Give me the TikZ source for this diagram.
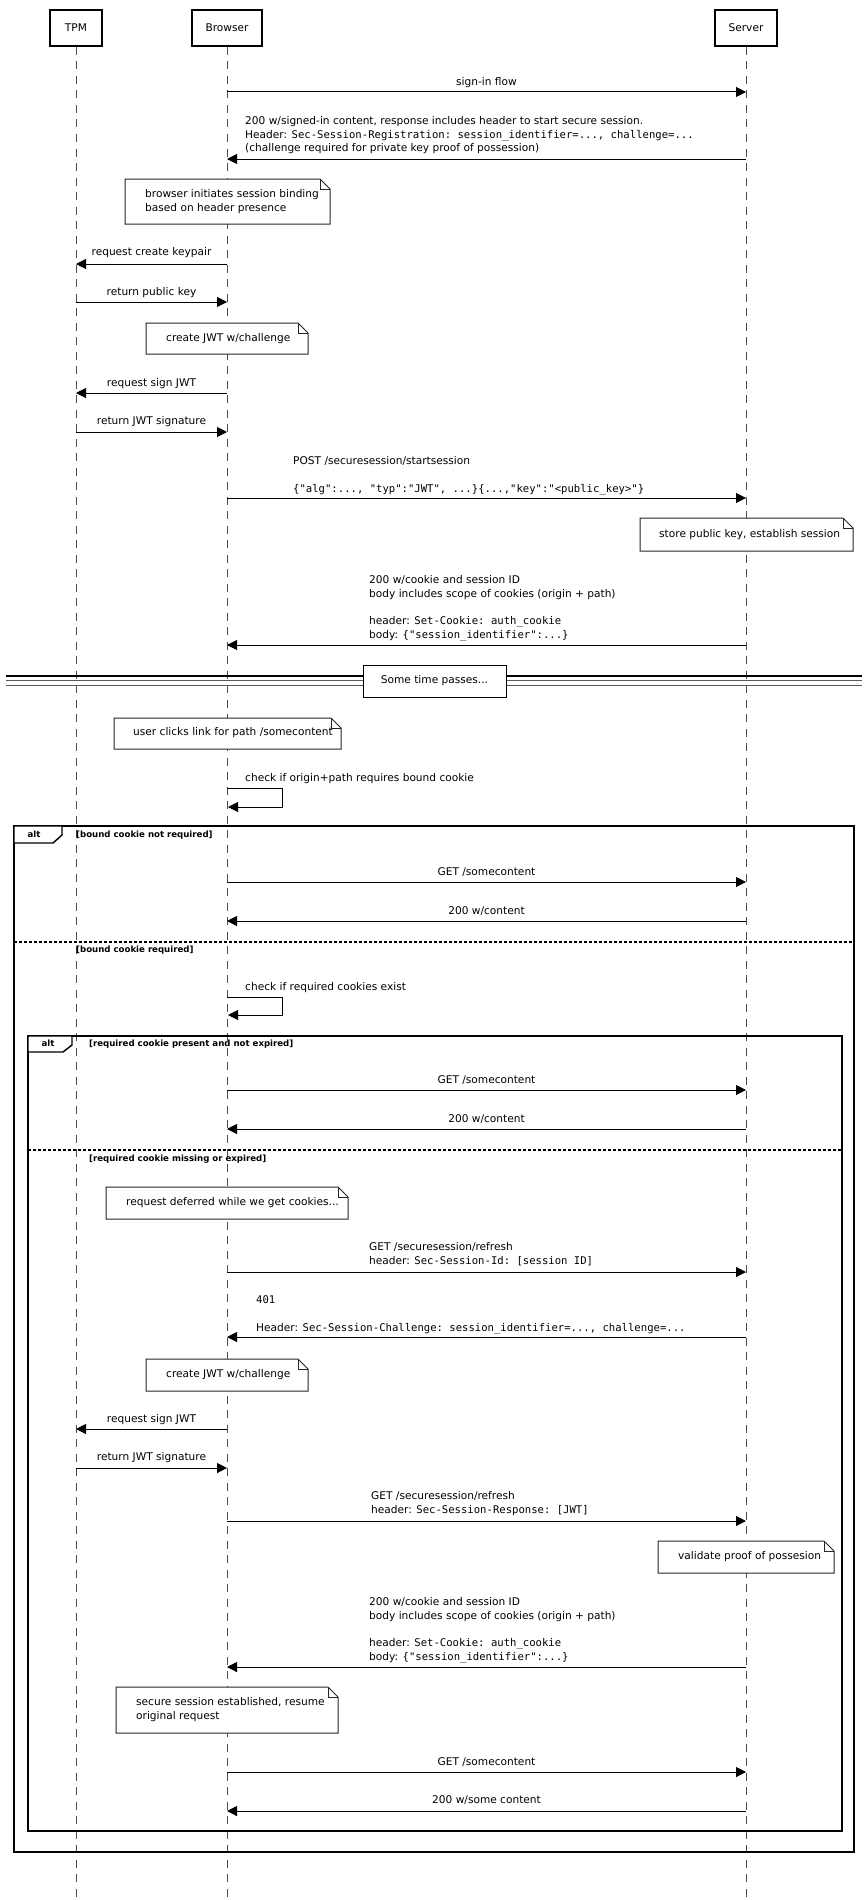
\documentclass[tikz,border=0pt]{standalone}
\usepackage{fontspec}
\setmainfont{DejaVu Sans}
\setmonofont{DejaVu Sans Mono}
\usetikzlibrary{arrows.meta}
\newcommand\msgline[4]{\coordinate (#1a) at (#2,#4); \coordinate (#1b) at (#3,#4); \draw[msg] (#1a) -- (#1b);}
\newcommand\notepath[4]{%
  \draw[notebox] (#1,#2) -- ({#3-10},#2) -- (#3,{#2+10}) -- (#3,#4) -- (#1,#4) -- cycle;
  \draw[notebox, fill=none] ({#3-10},#2) -- ({#3-10},{#2+10}) -- (#3,{#2+10});}
\tikzset{
  every node/.style={inner sep=0pt, font=\fontsize{10.6pt}{13.6pt}\selectfont},
  part/.style={draw, line width=2.2pt, fill=white, minimum height=36.5pt},
  life/.style={draw=black!70, line width=1pt, dash pattern=on 8pt off 6.5pt},
  msg/.style={draw=black, line width=1pt, -{Triangle[length=10pt,width=10pt]}},
  lbl/.style={anchor=mid},
  lblw/.style={anchor=mid west},
  notebox/.style={draw=black!85, line width=1pt, fill=white},
  frm/.style={draw, line width=1.8pt},
  tab/.style={draw, line width=1.4pt, fill=white},
  sepline/.style={draw, line width=1.4pt, dash pattern=on 2.5pt off 2.5pt},
  guard/.style={anchor=mid west, font=\fontsize{8.6pt}{10pt}\selectfont\bfseries},
  altlbl/.style={anchor=mid, font=\fontsize{8.6pt}{10pt}\selectfont\bfseries},
}
\begin{document}
\begin{tikzpicture}[x=1pt,y=-1pt]
\useasboundingbox (0,0) rectangle (866,1900);
\fill[white] (0,0) rectangle (866,1900);
% lifelines
\coordinate (tpmEnd) at (76,1900);
\coordinate (brwEnd) at (227,1900);
\coordinate (srvEnd) at (746,1900);
\coordinate (tpmTop) at (76,47);
\coordinate (brwTop) at (227,47);
\coordinate (srvTop) at (746,47);
\draw[life] (tpmTop) -- (tpmEnd);
\draw[life] (brwTop) -- (brwEnd);
\draw[life] (srvTop) -- (srvEnd);
% participants
\node[part, minimum width=52.5pt] (tpm) at (76,28) {TPM};
\node[part, minimum width=70.5pt] (brw) at (227,28) {Browser};
\node[part, minimum width=62.5pt] (srv) at (746,28) {Server};

% 1 sign-in flow
\node[lbl] (l1) at (486.5,83) {sign-in flow};
\msgline{m1}{227}{746}{92}
% 2
\node[lblw] (l2a) at (245,122) {200 w/signed-in content, response includes header to start secure session.};
\node[lblw] (l2b) at (245,135.5) {Header: \texttt{Sec-Session-Registration: session\_identifier=..., challenge=...}};
\node[lblw] (l2c) at (245,149) {(challenge required for private key proof of possession)};
\msgline{m2}{746}{227}{159}
% note 1
\notepath{125}{179}{330}{224}
\node[lblw] (n1a) at (145,195) {browser initiates session binding};
\node[lblw] (n1b) at (145,208.5) {based on header presence};
% keypair
\node[lbl] (l3) at (151.5,253) {request create keypair};
\msgline{m3}{227}{76}{264}
\node[lbl] (l4) at (151.5,293) {return public key};
\msgline{m4}{76}{227}{302}
% note create JWT
\notepath{146}{323}{308}{354}
\node[lblw] (n2) at (166,338.5) {create JWT w/challenge};
\node[lbl] (l5) at (151.5,384) {request sign JWT};
\msgline{m5}{227}{76}{393}
\node[lbl] (l6) at (151.5,422) {return JWT signature};
\msgline{m6}{76}{227}{432}
% POST
\node[lblw] (l7a) at (293,462) {POST /securesession/startsession};
\node[lblw] (l7b) at (293,490) {\texttt{\{"alg":..., "typ":"JWT", ...\}\{...,"key":"<public\_key>"\}}};
\msgline{m7}{227}{746}{498}
% note store
\notepath{640}{518}{853}{551}
\node[lblw] (n3) at (659,534.5) {store public key, establish session};
% 200 cookie
\node[lblw] (l8a) at (369,581) {200 w/cookie and session ID};
\node[lblw] (l8b) at (369,594.5) {body includes scope of cookies (origin + path)};
\node[lblw] (l8c) at (369,622) {header: \texttt{Set-Cookie: auth\_cookie}};
\node[lblw] (l8d) at (369,636) {body: \texttt{\{"session\_identifier":...\}}};
\msgline{m8}{746}{227}{645}
% divider
\coordinate (dv1a) at (6,676); \coordinate (dv1b) at (862,676);
\coordinate (dv2a) at (6,680.5); \coordinate (dv2b) at (862,680.5);
\coordinate (dv3a) at (6,685); \coordinate (dv3b) at (862,685);
\draw[line width=1.2pt] (dv1a) -- (dv1b);
\draw[line width=1pt, black!65] (dv2a) -- (dv2b);
\draw[line width=1pt, black!65] (dv3a) -- (dv3b);
\node[draw, line width=1pt, fill=white, minimum width=143pt, minimum height=32pt] (dvbox) at (434.5,681) {Some time passes...};
% note user clicks
\notepath{114}{718}{341}{749}
\node[lblw] (n4) at (133,733) {user clicks link for path /somecontent};
% self message 1
\node[lblw] (l9) at (245,779) {check if origin+path requires bound cookie};
\coordinate (s1a) at (227,788); \coordinate (s1c) at (282,788); \coordinate (s1b) at (228,807);
\draw[msg] (s1a) -- (s1c) |- (s1b);
% outer alt
\coordinate (fo1) at (14,826); \coordinate (fo2) at (854,1852);
\draw[frm] (fo1) rectangle (fo2);
\coordinate (to1) at (14,826); \coordinate (to2) at (62,826); \coordinate (to3) at (62,835);
\coordinate (to4) at (53,843); \coordinate (to5) at (14,843);
\draw[tab] (to1) -- (to2) -- (to3) -- (to4) -- (to5) -- cycle;
\node[altlbl] (alt1) at (34,834.5) {alt};
\node[guard] (g1) at (76,835) {[bound cookie not required]};
\node[lbl] (l10) at (486.5,873) {GET /somecontent};
\msgline{m10}{227}{746}{882}
\node[lbl] (l11) at (486.5,912) {200 w/content};
\msgline{m11}{746}{227}{921}
\coordinate (sp1a) at (14,942); \coordinate (sp1b) at (854,942);
\draw[sepline] (sp1a) -- (sp1b);
\node[guard] (g2) at (76,949.5) {[bound cookie required]};
% self message 2
\node[lblw] (l12) at (245,988) {check if required cookies exist};
\coordinate (s2a) at (227,997); \coordinate (s2c) at (282,997); \coordinate (s2b) at (228,1015);
\draw[msg] (s2a) -- (s2c) |- (s2b);
% inner alt
\coordinate (fi1) at (28,1036); \coordinate (fi2) at (842,1831);
\draw[frm] (fi1) rectangle (fi2);
\coordinate (ti1) at (28,1036); \coordinate (ti2) at (72,1036); \coordinate (ti3) at (72,1045);
\coordinate (ti4) at (63,1052); \coordinate (ti5) at (28,1052);
\draw[tab] (ti1) -- (ti2) -- (ti3) -- (ti4) -- (ti5) -- cycle;
\node[altlbl] (alt2) at (48,1044) {alt};
\node[guard] (g3) at (89,1044) {[required cookie present and not expired]};
\node[lbl] (l13) at (486.5,1081) {GET /somecontent};
\msgline{m13}{227}{746}{1090}
\node[lbl] (l14) at (486.5,1120) {200 w/content};
\msgline{m14}{746}{227}{1129}
\coordinate (sp2a) at (28,1150); \coordinate (sp2b) at (842,1150);
\draw[sepline] (sp2a) -- (sp2b);
\node[guard] (g4) at (89,1159) {[required cookie missing or expired]};
% note deferred
\notepath{106}{1187}{348}{1219}
\node[lblw] (n5) at (126,1203) {request deferred while we get cookies...};
% refresh 1
\node[lblw] (l15a) at (369,1248) {GET /securesession/refresh};
\node[lblw] (l15b) at (369,1262) {header: \texttt{Sec-Session-Id: [session ID]}};
\msgline{m15}{227}{746}{1272}
% 401
\node[lblw] (l16a) at (256,1301) {\texttt{401}};
\node[lblw] (l16b) at (256,1329) {Header: \texttt{Sec-Session-Challenge: session\_identifier=..., challenge=...}};
\msgline{m16}{746}{227}{1337}
% note create JWT 2
\notepath{146}{1359}{308}{1391}
\node[lblw] (n6) at (166,1374.5) {create JWT w/challenge};
\node[lbl] (l17) at (151.5,1420) {request sign JWT};
\msgline{m17}{227}{76}{1429}
\node[lbl] (l18) at (151.5,1458) {return JWT signature};
\msgline{m18}{76}{227}{1468}
% refresh 2
\node[lblw] (l19a) at (371,1497) {GET /securesession/refresh};
\node[lblw] (l19b) at (371,1511) {header: \texttt{Sec-Session-Response: [JWT]}};
\msgline{m19}{227}{746}{1521}
% note validate
\notepath{658}{1541}{834}{1573}
\node[lblw] (n7) at (678,1557) {validate proof of possesion};
% 200 cookie 2
\node[lblw] (l20a) at (369,1603) {200 w/cookie and session ID};
\node[lblw] (l20b) at (369,1617) {body includes scope of cookies (origin + path)};
\node[lblw] (l20c) at (369,1644) {header: \texttt{Set-Cookie: auth\_cookie}};
\node[lblw] (l20d) at (369,1658) {body: \texttt{\{"session\_identifier":...\}}};
\msgline{m20}{746}{227}{1667}
% note secure
\notepath{116}{1687}{338}{1733}
\node[lblw] (n8a) at (136,1703) {secure session established, resume};
\node[lblw] (n8b) at (136,1717) {original request};
\node[lbl] (l21) at (486.5,1763) {GET /somecontent};
\msgline{m21}{227}{746}{1772}
\node[lbl] (l22) at (486.5,1801) {200 w/some content};
\msgline{m22}{746}{227}{1811}
\end{tikzpicture}
\end{document}
